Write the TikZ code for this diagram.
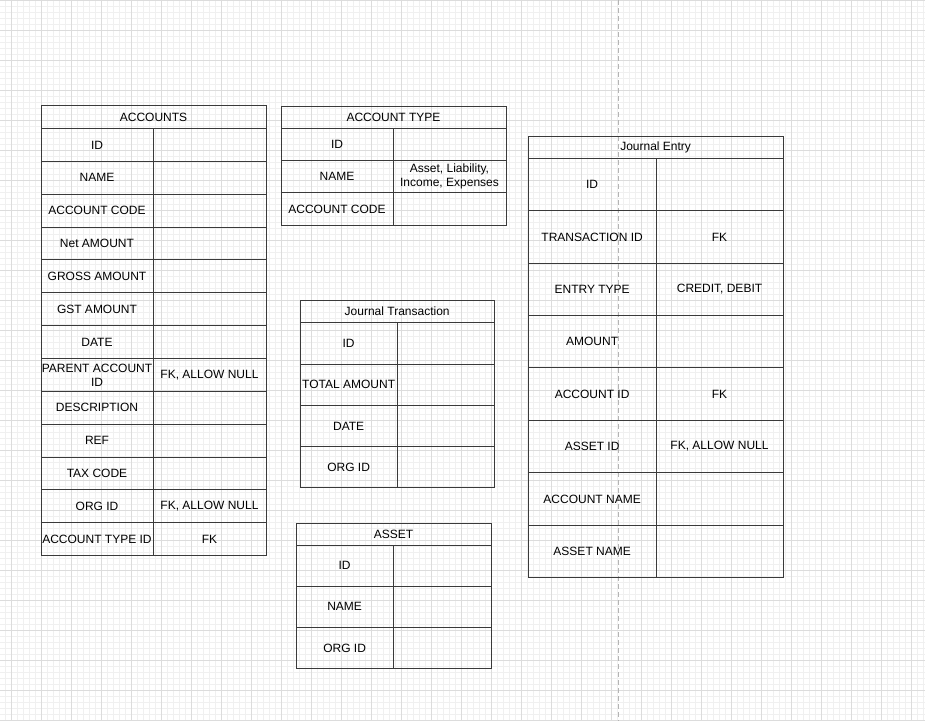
\documentclass[tikz,border=0pt]{standalone}
\usepackage{fontspec}
\setmainfont{Liberation Sans}
\usepackage{tikz}
\usetikzlibrary{positioning}
\newcommand{\celda}{\fontsize{12}{14}\selectfont}
\definecolor{rejillafina}{HTML}{F0F0F0}
\definecolor{rejilla}{HTML}{DCDCDC}
\definecolor{guiagris}{HTML}{B4B4B4}
\definecolor{borde}{HTML}{3A3A3A}
\tikzstyle{gridminor} = [rejillafina, line width=0.8pt]
\tikzstyle{gridmajor} = [rejilla, line width=0.8pt]
\tikzstyle{guia} = [guiagris, line width=0.9pt, dash pattern=on 5pt off 3pt]
\tikzstyle{celda} = [draw=borde, line width=1pt, rectangle, inner sep=0pt, outer sep=0pt, align=center, font=\celda, text=black]
\tikzstyle{titulo} = [celda]

\begin{document}
\begin{tikzpicture}[x=1pt,y=-1pt]
					\useasboundingbox (0,0) rectangle (925,721);
					\foreach \i in {0,...,154} \draw[gridminor] (-0.3+6*\i,0) -- (-0.3+6*\i,721);
					\foreach \j in {0,...,120} \draw[gridminor] (0,6*\j) -- (925,6*\j);
					\foreach \i in {0,...,30} \draw[gridmajor] (11.7+30*\i,0) -- (11.7+30*\i,721);
					\foreach \j in {0,...,24} \draw[gridmajor] (0,30*\j) -- (925,30*\j);
					\coordinate (guia-top) at (618.3,0);
					\coordinate (guia-bot) at (618.3,721);
					\draw[guia] (guia-top) -- (guia-bot);

					\node[titulo, minimum width=225pt, minimum height=23pt] (accounts) at (153.5,117) {ACCOUNTS};
					\foreach \k/\v [count=\i] in {ID/{}, NAME/{}, ACCOUNT CODE/{}, Net AMOUNT/{}, GROSS AMOUNT/{}, GST AMOUNT/{}, DATE/{}, {PARENT ACCOUNT\\ID}/{FK, ALLOW NULL}, DESCRIPTION/{}, REF/{}, TAX CODE/{}, ORG ID/{FK, ALLOW NULL}, ACCOUNT TYPE ID/FK}{
						\node[celda, minimum width=112pt, minimum height=32.85pt] (accounts-k\i) at (97,{128.5+32.85*(\i-0.5)}) {\k};
						\node[celda, minimum width=113pt, minimum height=32.85pt] (accounts-v\i) at (209.5,{128.5+32.85*(\i-0.5)}) {\v};
					}

					\node[titulo, minimum width=225pt, minimum height=22pt] (accounttype) at (393.5,117) {ACCOUNT TYPE};
					\foreach \k/\v [count=\i] in {ID/{}, NAME/{Asset, Liability,\\Income, Expenses}, ACCOUNT CODE/{}}{
						\node[celda, minimum width=112pt, minimum height=32.4pt] (accounttype-k\i) at (337,{128+32.4*(\i-0.5)}) {\k};
						\node[celda, minimum width=113pt, minimum height=32.4pt] (accounttype-v\i) at (449.5,{128+32.4*(\i-0.5)}) {\v};
					}

					\node[titulo, minimum width=254.7pt, minimum height=22pt] (journalentry) at (655.65,147.3) {Journal Entry};
					\foreach \k/\v [count=\i] in {ID/{}, TRANSACTION ID/FK, ENTRY TYPE/{CREDIT, DEBIT}, AMOUNT/{}, ACCOUNT ID/FK, ASSET ID/{FK, ALLOW NULL}, ACCOUNT NAME/{}, ASSET NAME/{}}{
						\node[celda, minimum width=127.7pt, minimum height=52.4pt] (journalentry-k\i) at (592.15,{158.3+52.4*(\i-0.5)}) {\k};
						\node[celda, minimum width=127pt, minimum height=52.4pt] (journalentry-v\i) at (719.5,{158.3+52.4*(\i-0.5)}) {\v};
					}

					\node[titulo, minimum width=194.3pt, minimum height=22.7pt] (journaltransaction) at (397.15,311.6) {Journal Transaction};
					\foreach \k/\v [count=\i] in {ID/{}, TOTAL AMOUNT/{}, DATE/{}, ORG ID/{}}{
						\node[celda, minimum width=97.3pt, minimum height=41.25pt] (journaltransaction-k\i) at (348.65,{322.9+41.25*(\i-0.5)}) {\k};
						\node[celda, minimum width=97pt, minimum height=41.25pt] (journaltransaction-v\i) at (445.8,{322.9+41.25*(\i-0.5)}) {\v};
					}

					\node[titulo, minimum width=195pt, minimum height=22pt] (asset) at (393.5,534) {ASSET};
					\foreach \k/\v [count=\i] in {ID/{}, NAME/{}, ORG ID/{}}{
						\node[celda, minimum width=97.3pt, minimum height=41.2pt] (asset-k\i) at (344.65,{545+41.2*(\i-0.5)}) {\k};
						\node[celda, minimum width=97.7pt, minimum height=41.2pt] (asset-v\i) at (442.15,{545+41.2*(\i-0.5)}) {\v};
					}
\end{tikzpicture}
\end{document}
